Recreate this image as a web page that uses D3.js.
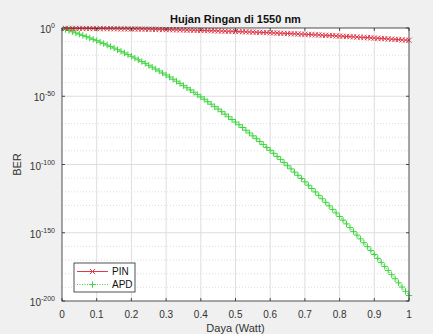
<!DOCTYPE html>
<html>
<head>
<meta charset="utf-8">
<script src="https://cdn.jsdelivr.net/npm/d3@7"></script>
<style>
  body { margin: 0; background: #f0f0f0; }
  svg { display: block; font-family: "Liberation Sans", Arial, sans-serif; }
</style>
</head>
<body>
<svg id="chart" width="433" height="334"></svg>
<script>
// daya (Watt), 0.01 .. 1 in steps of 0.01
const daya = d3.range(1, 101).map(k => k / 100);

// log10(BER)
const pinExp = [
  -0.30, -0.31, -0.32, -0.33, -0.34, -0.35, -0.36, -0.38, -0.40, -0.41,
  -0.43, -0.46, -0.48, -0.51, -0.53, -0.56, -0.59, -0.63, -0.66, -0.70,
  -0.73, -0.77, -0.81, -0.86, -0.90, -0.95, -0.99, -1.04, -1.09, -1.15,
  -1.20, -1.26, -1.31, -1.37, -1.43, -1.50, -1.56, -1.63, -1.69, -1.76,
  -1.84, -1.91, -1.98, -2.06, -2.14, -2.22, -2.30, -2.38, -2.46, -2.55,
  -2.64, -2.73, -2.82, -2.91, -3.01, -3.10, -3.20, -3.30, -3.40, -3.50,
  -3.61, -3.72, -3.82, -3.93, -4.04, -4.16, -4.27, -4.39, -4.51, -4.63,
  -4.75, -4.87, -5.00, -5.12, -5.25, -5.38, -5.51, -5.64, -5.78, -5.92,
  -6.05, -6.19, -6.34, -6.48, -6.62, -6.77, -6.92, -7.07, -7.22, -7.37,
  -7.53, -7.69, -7.84, -8.00, -8.17, -8.33, -8.49, -8.66, -8.83, -9.00
];
const apdExp = [
  -1.1, -1.9, -2.8, -3.6, -4.5, -5.4, -6.4, -7.3, -8.3, -9.3,
  -10.4, -11.4, -12.5, -13.6, -14.7, -15.9, -17.1, -18.3, -19.5, -20.7,
  -22.0, -23.3, -24.6, -25.9, -27.3, -28.7, -30.1, -31.5, -33.0, -34.4,
  -35.9, -37.5, -39.0, -40.6, -42.2, -43.8, -45.4, -47.1, -48.8, -50.5,
  -52.2, -54.0, -55.8, -57.6, -59.4, -61.3, -63.1, -65.0, -67.0, -68.9,
  -70.9, -72.9, -74.9, -76.9, -79.0, -81.1, -83.2, -85.3, -87.5, -89.6,
  -91.8, -94.1, -96.3, -98.6, -100.9, -103.2, -105.6, -107.9, -110.3, -112.7,
  -115.2, -117.6, -120.1, -122.6, -125.1, -127.7, -130.3, -132.9, -135.5, -138.1,
  -140.8, -143.5, -146.2, -149.0, -151.7, -154.5, -157.3, -160.2, -163.0, -165.9,
  -168.8, -171.7, -174.7, -177.7, -180.7, -183.7, -186.7, -189.8, -192.9, -196.0
];

const xTicks = [0, 0.1, 0.2, 0.3, 0.4, 0.5, 0.6, 0.7, 0.8, 0.9, 1];
const yTickExp = [0, -50, -100, -150, -200];
const yMinorExp = d3.range(-10, -200, -10).filter(e => e % 50 !== 0);

const plotL = 62, plotR = 409, plotT = 28, plotB = 301;
const axisColor = "#262626";

let svg = d3.select("#chart");
svg.append("rect").attr("width", 433).attr("height", 334).attr("fill", "#f0f0f0");

let x = d3.scaleLinear().domain([0, 1]).range([plotL, plotR]);
let y = d3.scaleLog().domain([1e-200, 1]).range([plotB, plotT]);

svg.append("rect")
  .attr("x", plotL).attr("y", plotT)
  .attr("width", plotR - plotL).attr("height", plotB - plotT)
  .attr("fill", "white");

// grid
let grid = svg.append("g").attr("class", "grid");
grid.selectAll(".ymin").data(yMinorExp).enter().append("line")
  .attr("x1", plotL).attr("x2", plotR)
  .attr("y1", d => y(Math.pow(10, d))).attr("y2", d => y(Math.pow(10, d)))
  .attr("stroke", "#d6d6d6").attr("stroke-width", 0.8)
  .attr("stroke-dasharray", "1,2");
grid.selectAll(".xg").data(xTicks.slice(1, -1)).enter().append("line")
  .attr("x1", d => x(d)).attr("x2", d => x(d))
  .attr("y1", plotT).attr("y2", plotB)
  .attr("stroke", "#dedede").attr("stroke-width", 1);
grid.selectAll(".yg").data(yTickExp.slice(1, -1)).enter().append("line")
  .attr("x1", plotL).attr("x2", plotR)
  .attr("y1", d => y(Math.pow(10, d))).attr("y2", d => y(Math.pow(10, d)))
  .attr("stroke", "#dedede").attr("stroke-width", 1);

// series
let pinData = daya.map((p, i) => [p, Math.pow(10, pinExp[i])]);
let apdData = daya.map((p, i) => [p, Math.pow(10, apdExp[i])]);
let line = d3.line().x(d => x(d[0])).y(d => y(d[1]));

const pinColor = "#dd3a48", apdColor = "#3ed43e";
const xMark = "M-2.6,-2.6L2.6,2.6M-2.6,2.6L2.6,-2.6";
const plusMark = "M-3.2,0H3.2M0,-3.2V3.2";

svg.append("path").datum(apdData).attr("d", line)
  .attr("fill", "none").attr("stroke", apdColor).attr("stroke-width", 1)
  .attr("stroke-dasharray", "1,1.5");
svg.append("g").selectAll("path").data(apdData).enter().append("path")
  .attr("transform", d => "translate(" + x(d[0]) + "," + y(d[1]) + ")")
  .attr("d", plusMark)
  .attr("stroke", apdColor).attr("stroke-width", 1).attr("fill", "none");

svg.append("path").datum(pinData).attr("d", line)
  .attr("fill", "none").attr("stroke", pinColor).attr("stroke-width", 1);
svg.append("g").selectAll("path").data(pinData).enter().append("path")
  .attr("transform", d => "translate(" + x(d[0]) + "," + y(d[1]) + ")")
  .attr("d", xMark)
  .attr("stroke", pinColor).attr("stroke-width", 1).attr("fill", "none");

// box + ticks
svg.append("rect")
  .attr("x", plotL).attr("y", plotT)
  .attr("width", plotR - plotL).attr("height", plotB - plotT)
  .attr("fill", "none").attr("stroke", axisColor).attr("stroke-width", 0.8);

let ticks = svg.append("g").attr("stroke", axisColor).attr("stroke-width", 0.8);
xTicks.forEach(t => {
  ticks.append("line").attr("x1", x(t)).attr("x2", x(t)).attr("y1", plotB).attr("y2", plotB - 3);
  ticks.append("line").attr("x1", x(t)).attr("x2", x(t)).attr("y1", plotT).attr("y2", plotT + 3);
});
yTickExp.forEach(e => {
  let yy = y(Math.pow(10, e));
  ticks.append("line").attr("x1", plotL).attr("x2", plotL + 3).attr("y1", yy).attr("y2", yy);
  ticks.append("line").attr("x1", plotR).attr("x2", plotR - 3).attr("y1", yy).attr("y2", yy);
});

// tick labels
svg.append("g").selectAll("text").data(xTicks).enter().append("text")
  .attr("x", d => x(d)).attr("y", plotB + 17)
  .attr("text-anchor", "middle").attr("font-size", 10).attr("fill", "#333")
  .text(d => d3.format("")(d));

let yl = svg.append("g").selectAll("text").data(yTickExp).enter().append("text")
  .attr("x", 55).attr("y", d => y(Math.pow(10, d)) + 5)
  .attr("text-anchor", "end").attr("font-size", 10).attr("fill", "#333");
yl.append("tspan").text("10");
yl.append("tspan").attr("dy", -5).attr("font-size", 7).text(d => d);

// titles
svg.append("text").attr("x", (plotL + plotR) / 2).attr("y", 23)
  .attr("text-anchor", "middle").attr("font-size", 11).attr("font-weight", "bold")
  .attr("fill", "#111").text("Hujan Ringan di 1550 nm");
svg.append("text").attr("x", (plotL + plotR) / 2).attr("y", 332)
  .attr("text-anchor", "middle").attr("font-size", 11).attr("fill", "#333")
  .text("Daya (Watt)");
svg.append("text")
  .attr("transform", "translate(21," + (plotT + plotB) / 2 + ") rotate(-90)")
  .attr("text-anchor", "middle").attr("font-size", 11).attr("fill", "#333")
  .text("BER");

// legend
let legend = svg.append("g").attr("transform", "translate(74,263)");
legend.append("rect").attr("width", 61).attr("height", 29)
  .attr("fill", "white").attr("stroke", axisColor).attr("stroke-width", 0.8);
let items = [
  {name: "PIN", color: pinColor, dash: null, marker: xMark},
  {name: "APD", color: apdColor, dash: "1,1.5", marker: plusMark}
];
items.forEach((it, i) => {
  let yy = 8.5 + i * 13;
  legend.append("line").attr("x1", 3).attr("x2", 34).attr("y1", yy).attr("y2", yy)
    .attr("stroke", it.color).attr("stroke-width", 1)
    .attr("stroke-dasharray", it.dash);
  legend.append("path").attr("transform", "translate(18.5," + yy + ")")
    .attr("d", it.marker).attr("fill", "none")
    .attr("stroke", it.color).attr("stroke-width", 1);
  legend.append("text").attr("x", 38).attr("y", yy + 3.5)
    .attr("font-size", 10).attr("fill", "#111").text(it.name);
});
</script>
</body>
</html>
